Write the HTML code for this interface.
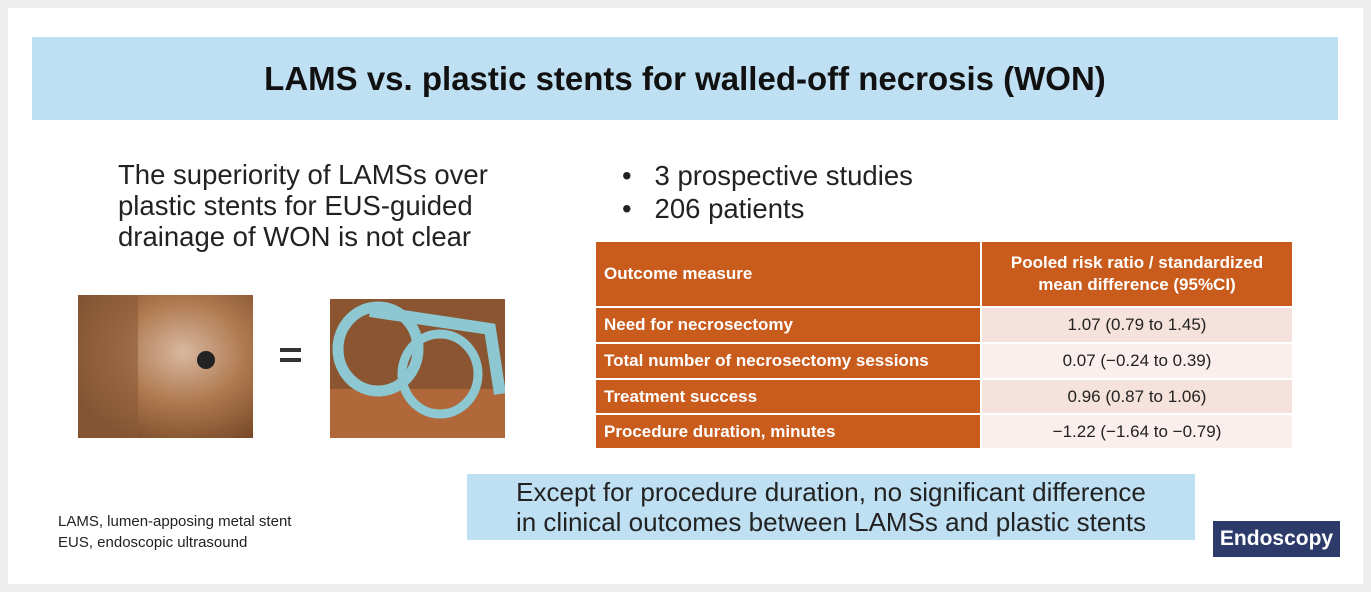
<!DOCTYPE html>
<html><head><meta charset="utf-8"><style>
body{margin:0;width:1371px;height:592px;background:#eeeeee;position:relative;font-family:"Liberation Sans",sans-serif;overflow:hidden}
.inner{position:absolute;left:8px;top:8px;width:1355px;height:576px;background:#fff}
.a{position:absolute}
.title{left:32px;top:37px;width:1306px;height:83px;background:#bfe0f3;display:flex;align-items:center;justify-content:center;font-weight:bold;font-size:33px;color:#111;letter-spacing:0px}
.lt{left:118px;top:159px;font-size:27.5px;line-height:31px;color:#222}
.bul{left:622px;top:159px;font-size:27.5px;line-height:33px;color:#222}
table{position:absolute;left:594px;top:240px;border-collapse:collapse;font-size:17px}
td{padding:0 8px;border:2px solid #fff}
td.o{background:#c95b1d;color:#fff;font-weight:bold;width:368px}
td.v{text-align:center;width:294px;color:#222}
.foot{left:58px;top:511px;font-size:15px;line-height:21px;color:#222}
.box{left:467px;top:474px;width:728px;height:66px;background:#bfe0f3;font-size:26px;line-height:30px;text-align:center;color:#222;padding-top:3px;box-sizing:border-box;white-space:nowrap}
.badge{left:1213px;top:521px;width:127px;height:36px;background:#2d3b6b;color:#fff;font-weight:bold;font-size:21px;display:flex;align-items:center;justify-content:center}
</style></head><body>
<div class="inner"></div>
<div class="a title">LAMS vs. plastic stents for walled-off necrosis (WON)</div>
<div class="a lt">The superiority of LAMSs over<br>plastic stents for EUS-guided<br>drainage of WON is not clear</div>
<div class="a bul">•&nbsp;&nbsp;&nbsp;3 prospective studies<br>•&nbsp;&nbsp;&nbsp;206 patients</div>
<table>
<tr style="height:66px"><td class="o">Outcome measure</td><td class="o" style="text-align:center;width:294px;line-height:22px">Pooled risk ratio / standardized<br>mean difference (95%CI)</td></tr>
<tr style="height:36px"><td class="o">Need for necrosectomy</td><td class="v" style="background:#f5e2dc">1.07 (0.79 to 1.45)</td></tr>
<tr style="height:36px"><td class="o">Total number of necrosectomy sessions</td><td class="v" style="background:#faefec">0.07 (−0.24 to 0.39)</td></tr>
<tr style="height:35px"><td class="o">Treatment success</td><td class="v" style="background:#f5e2dc">0.96 (0.87 to 1.06)</td></tr>
<tr style="height:35px"><td class="o">Procedure duration, minutes</td><td class="v" style="background:#faefec">−1.22 (−1.64 to −0.79)</td></tr>
</table>
<svg class="a" style="left:78px;top:295px" width="175" height="143">
<defs><radialGradient id="g1" cx="0.6" cy="0.4" r="0.7"><stop offset="0" stop-color="#d8b8a0"/><stop offset="0.5" stop-color="#b07a50"/><stop offset="1" stop-color="#7a4a28"/></radialGradient></defs>
<rect width="175" height="143" fill="url(#g1)"/>
<rect width="60" height="143" fill="#8a5a38" opacity="0.6"/>
<circle cx="128" cy="65" r="9" fill="#222"/>
</svg>
<div class="a" style="left:280px;top:348px;width:21px;height:4px;background:#333"></div>
<div class="a" style="left:280px;top:358px;width:21px;height:4px;background:#333"></div>
<svg class="a" style="left:330px;top:299px" width="175" height="139">
<rect width="175" height="139" fill="#8a5530"/>
<rect x="0" y="90" width="175" height="49" fill="#b0683a"/>
<ellipse cx="48" cy="50" rx="40" ry="42" fill="none" stroke="#8cc7d2" stroke-width="11"/>
<ellipse cx="110" cy="75" rx="38" ry="40" fill="none" stroke="#8cc7d2" stroke-width="9"/>
<path d="M40 12 L160 30 L170 95" fill="none" stroke="#8cc7d2" stroke-width="12"/>
</svg>
<div class="a foot">LAMS, lumen-apposing metal stent<br>EUS, endoscopic ultrasound</div>
<div class="a box">Except for procedure duration, no significant difference<br>in clinical outcomes between LAMSs and plastic stents</div>
<div class="a badge">Endoscopy</div>
</body></html>
